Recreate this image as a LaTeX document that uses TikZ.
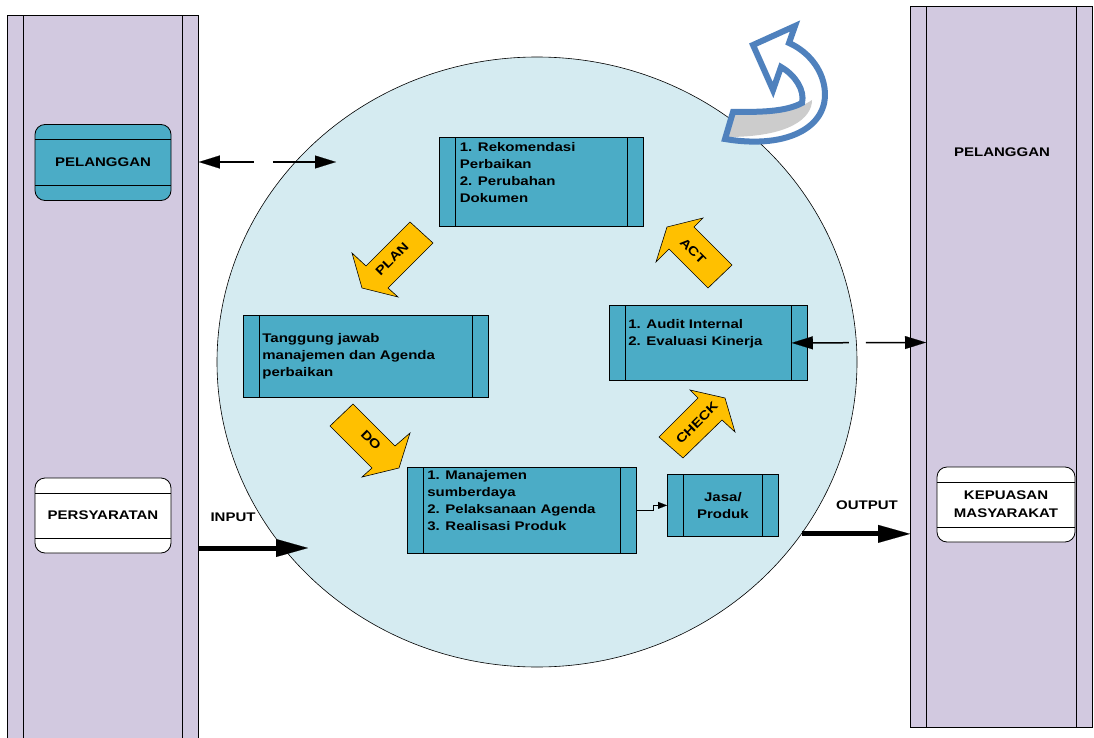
\documentclass[tikz,border=0pt]{standalone}
\usepackage{fontspec}
\setmainfont{Liberation Sans}[FakeStretch=1.2]
\usetikzlibrary{shapes.geometric,
                arrows.meta,
                positioning}

\definecolor{lanefill}{RGB}{210,201,224}
\definecolor{procfill}{RGB}{75,172,198}
\definecolor{ringfill}{RGB}{213,235,241}
\definecolor{stepfill}{RGB}{255,192,0}
\definecolor{turnblue}{RGB}{79,129,189}
\definecolor{turngray}{RGB}{204,204,204}

\newcommand{\proctext}[4]{\parbox[c][#1][t]{#2}{\vspace*{#3}\raggedright #4}}
\newcommand{\turnpath}{(725,139) .. controls (790,150) and (832,125) .. (824,85)
        .. controls (820,65) and (805,50) .. (789,43)
        -- (795,26) -- (753,45) -- (773,90) -- (781,67)
        .. controls (795,75) and (805,90) .. (802,103)
        .. controls (785,112) and (760,112) .. (733,112) -- cycle}

\tikzset{lane/.style =
   {rectangle,
    draw,
    fill=lanefill,
    line width=0.8pt,
    inner sep=0,
    anchor=north west,
    path picture={
      \draw[line width=0.8pt] ([xshift=16pt]path picture bounding box.north west)
                           -- ([xshift=16pt]path picture bounding box.south west);
      \draw[line width=0.8pt] ([xshift=-16pt]path picture bounding box.north east)
                           -- ([xshift=-16pt]path picture bounding box.south east);}}}
\tikzset{proc/.style =
   {rectangle,
    draw,
    fill=procfill,
    line width=0.8pt,
    inner sep=0,
    anchor=north west,
    font=\fontsize{12.5}{17}\selectfont\bfseries,
    path picture={
      \draw[line width=0.8pt] ([xshift=16pt]path picture bounding box.north west)
                           -- ([xshift=16pt]path picture bounding box.south west);
      \draw[line width=0.8pt] ([xshift=-16pt]path picture bounding box.north east)
                           -- ([xshift=-16pt]path picture bounding box.south east);}}}
\tikzset{entity/.style =
   {rectangle,
    draw,
    rounded corners=10pt,
    line width=0.8pt,
    minimum width=136pt,
    minimum height=76pt,
    align=center,
    font=\fontsize{12.5}{18}\selectfont\bfseries,
    path picture={
      \draw[line width=0.8pt] ([yshift=-15pt]path picture bounding box.north west)
                           -- ([yshift=-15pt]path picture bounding box.north east);
      \draw[line width=0.8pt] ([yshift=15pt]path picture bounding box.south west)
                           -- ([yshift=15pt]path picture bounding box.south east);}}}
\tikzset{pdcaring/.style =
   {ellipse,
    draw,
    fill=ringfill,
    line width=0.6pt,
    inner sep=0,
    minimum width=640pt,
    minimum height=610pt}}
\tikzset{stepshape/.style = {draw, fill=stepfill, line width=0.6pt, line join=miter}}
\tikzset{steplabel/.style = {font=\fontsize{12.5}{14}\selectfont\bfseries, inner sep=0}}
\tikzset{tag/.style = {font=\fontsize{12.5}{14}\selectfont\bfseries, inner sep=0}}
\tikzset{dashlink/.style =
   {draw,
    line width=1.5pt,
    {Triangle[length=21pt,width=13pt,line width=0.1pt]}-{Triangle[length=21pt,width=13pt,line width=0.1pt]}}}
\tikzset{bigarrow/.style = {draw, line width=5pt, -{Triangle[length=32pt,width=18pt,line width=0.1pt]}}}
\tikzset{smallarrow/.style = {draw, line width=0.8pt, -{Triangle[length=9pt,width=7pt,line width=0.1pt]}}}

\begin{document}
\begin{tikzpicture}[x=1pt, y=-1pt]

    \useasboundingbox (0,0) rectangle (1094,738);

    % swim lanes
    \node [lane, minimum width=191pt, minimum height=740pt] (laneL) at (7,15) {};
    \node [lane, minimum width=182pt, minimum height=721pt] (laneR) at (910,6) {};

    \node [entity, fill=procfill] (pelL) at (103,162.5) {PELANGGAN};
    \node [entity, fill=white, minimum height=75pt] (syarat) at (103,515.5) {PERSYARATAN};
    \node [tag] (pelR) at (1002,152) {PELANGGAN};
    \node [entity, fill=white, minimum width=138pt, minimum height=75pt] (puas)
          at (1006,504.5) {KEPUASAN\\MASYARAKAT};

    % PDCA circle
    \node [pdcaring] (pdca) at (537,362) {};

    % turning arrow
    \fill [white] \turnpath;
    \fill [turngray] (733,114) .. controls (765,114) and (795,112) .. (812,100)
        .. controls (812,118) and (790,137) .. (727,137) -- cycle;
    \draw [turnblue, line width=6pt, line join=miter] \turnpath;

    % process boxes
    \node [proc, minimum width=204pt, minimum height=89pt] (rekom) at (439,137)
    {\proctext{89pt}{163pt}{5pt}{1. Rekomendasi\\Perbaikan\\2. Perubahan\\Dokumen}};
    \node [proc, minimum width=245pt, minimum height=82pt] (tanggung) at (243,315)
    {\proctext{82pt}{207pt}{18pt}{Tanggung jawab\\manajemen dan Agenda\\perbaikan}};
    \node [proc, minimum width=198pt, minimum height=75pt] (audit) at (609,305)
    {\proctext{75pt}{160pt}{14pt}{1. Audit Internal\\2. Evaluasi Kinerja}};
    \node [proc, minimum width=229pt, minimum height=86pt] (manaj) at (407,467)
    {\proctext{86pt}{189pt}{3pt}{1. Manajemen\\sumberdaya\\2. Pelaksanaan Agenda\\3. Realisasi Produk}};
    \node [proc, minimum width=111pt, minimum height=62pt, align=center] (jasa) at (667,474)
    {Jasa/\\Produk};

    % PDCA step arrows
    \draw [stepshape] (410,222) -- (366,266) -- (352,253) -- (362,288)
        -- (398,297) -- (388,288) -- (433,243) -- cycle;
    \node [steplabel, rotate=45] (plan) at (392,259) {PLAN};
    \draw [stepshape] (353,404) -- (395,446) -- (410,433) -- (399,468)
        -- (362,477) -- (372,468) -- (330,426) -- cycle;
    \node [steplabel, rotate=-45] (do) at (371,440) {DO};
    \draw [stepshape] (659,437) -- (698,398) -- (690,390) -- (725,398)
        -- (735,432) -- (722,420) -- (683,458) -- cycle;
    \node [steplabel, rotate=45] (check) at (697,423) {CHECK};
    \draw [stepshape] (732,265) -- (694,227) -- (703,218) -- (667,227)
        -- (656,262) -- (669,249) -- (708,288) -- cycle;
    \node [steplabel, rotate=-45] (act) at (693,251) {ACT};

    % connectors
    \coordinate (pelEnd) at (336,162);
    \coordinate (auditEnd) at (926,342.5);
    \coordinate (inTip) at (308,548);
    \draw [dashlink, dash pattern=on 34pt off 19pt on 200pt] (laneL.east |- pelEnd) -- (pelEnd);
    \draw [dashlink, dash pattern=on 36pt off 17pt on 200pt] ([xshift=-16pt]audit.east) -- (auditEnd);
    \draw [smallarrow] (manaj.east) -- ++(17,0) |- (jasa.west);
    \draw [bigarrow] (laneL.east |- inTip) -- (inTip);
    \draw [bigarrow] (pdca.-33) -- (laneR.west |- pdca.-33);

    \node [tag] (input) at (233,517) {INPUT};
    \node [tag] (output) at (867,505) {OUTPUT};

\end{tikzpicture}
\end{document}
